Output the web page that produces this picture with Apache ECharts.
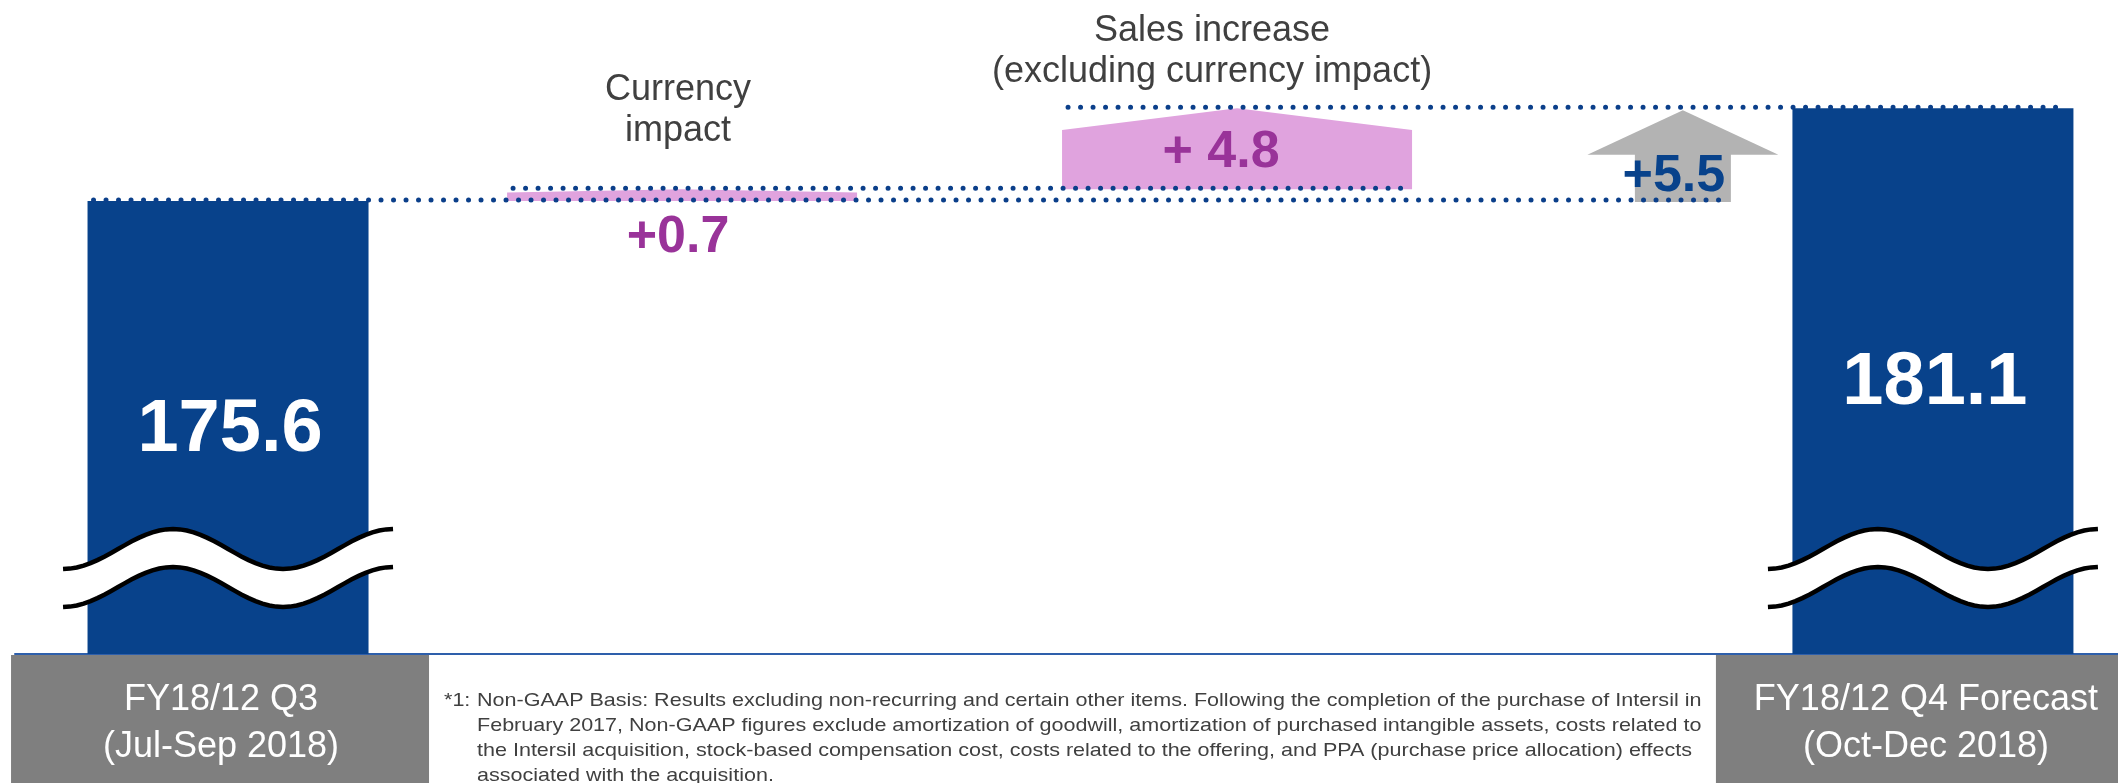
<!DOCTYPE html>
<html>
<head>
<meta charset="utf-8">
<title>Sales bridge FY18/12 Q3 to Q4 forecast</title>
<script src="https://cdn.jsdelivr.net/npm/echarts@6/dist/echarts.min.js"></script>
<style>
  html, body { margin: 0; padding: 0; background: #fff; }
  #chart { width: 2118px; height: 783px; }
</style>
</head>
<body>
<div id="chart"></div>
<script>
// ---- data ----
const categories = [
  "FY18/12 Q3\n(Jul-Sep 2018)",
  "Currency\nimpact",
  "Sales increase\n(excluding currency impact)",
  "",
  "FY18/12 Q4 Forecast\n(Oct-Dec 2018)"
];
const values = [175.6, 0.7, 4.8, 5.5, 181.1];
const valueLabels = ["175.6", "+0.7", "+ 4.8", "+5.5", "181.1"];
const kinds = ["total", "delta", "delta", "sum", "total"];
const footnote = [
  "Non-GAAP Basis: Results excluding non-recurring and certain other items. Following the completion of the purchase of Intersil in",
  "February 2017, Non-GAAP figures exclude amortization of goodwill, amortization of purchased intangible assets, costs related to",
  "the Intersil acquisition, stock-based compensation cost, costs related to the offering, and PPA (purchase price allocation) effects",
  "associated with the acquisition."
];

// ---- layout ----
const yMin = 148.8, yMax = 187.5;              // truncated value axis (break marks on the bars)
const slotX = [10.13, 31.72, 58.11, 79.31, 91.2]; // x centres, axis units 0-100
const titleGap = [0, 79, 57, 0, 0];             // title centre above shape top (px)
const titleDx = [0, -4, -25, 0, 0];

const NAVY = "#08428b";
const PINK = "#e0a3de";
const PURPLE = "#993399";
const GREY_TXT = "#404040";
const FONT = '"Liberation Sans", Arial, sans-serif';

// running levels for the bridge
const bases = [], tops = [];
let run = values[0];
values.forEach((v, i) => {
  if (kinds[i] === "total") { bases.push(yMin); tops.push(v); }
  else if (kinds[i] === "delta") { bases.push(run); run = +(run + v).toFixed(1); tops.push(run); }
  else { bases.push(values[0]); tops.push(+(values[0] + v).toFixed(1)); }
});
const stepData = values.map((v, i) => [slotX[i], bases[i], tops[i], i]);

// dotted connectors: [from step, to step, level]
const connectors = [
  [0, 3, values[0]],
  [1, 2, tops[1]],
  [2, 4, values[4]]
];
function halfWidth(i) {
  if (kinds[i] === "total") return 140.5;
  if (kinds[i] === "delta") return 175;
  return 48;
}

function breakMark(cx, yB) {
  const W = 330, A = 20, N = 48;
  const up = [], lo = [];
  for (let k = 0; k <= N; k++) {
    const t = k / N;
    const x = cx - W / 2 + t * W;
    const dy = A * Math.cos(3 * Math.PI * t);
    up.push([x, yB - 105 + dy]);
    lo.push([x, yB - 67 + dy]);
  }
  return [
    { type: "polygon", shape: { points: up.concat(lo.slice().reverse()) }, style: { fill: "#fff" } },
    { type: "polyline", shape: { points: up }, style: { stroke: "#000", lineWidth: 4.5, fill: null } },
    { type: "polyline", shape: { points: lo }, style: { stroke: "#000", lineWidth: 4.5, fill: null } }
  ];
}

function renderShape(params, api) {
  const i = api.value(3);
  const pT = api.coord([api.value(0), api.value(2)]);
  const pB = api.coord([api.value(0), api.value(1)]);
  const cx = pT[0], yT = pT[1], yB = pB[1];
  const children = [];
  if (kinds[i] === "total") {
    const w = 281;
    children.push({ type: "rect", shape: { x: cx - w / 2, y: yT, width: w, height: yB - yT }, style: { fill: NAVY } });
    children.push(...breakMark(cx, yB));
    // grey category box under the axis
    children.push({ type: "rect", shape: { x: cx - 217, y: yB + 1, width: 418, height: 140 }, style: { fill: "#7f7f7f" } });
    children.push({
      type: "text",
      style: {
        text: categories[i], x: cx - 7, y: yB + 70, fill: "#fff",
        fontSize: 36, fontFamily: FONT, lineHeight: 47, align: "center", verticalAlign: "middle"
      }
    });
  } else if (kinds[i] === "delta") {
    const l = cx - 175, r = cx + 175;
    const sh = yT + 0.27 * (yB - yT);
    children.push({
      type: "polygon",
      shape: { points: [[l, yB], [l, sh], [cx, yT], [r, sh], [r, yB]] },
      style: { fill: PINK }
    });
  } else {
    const headY = yT + 0.5 * (yB - yT);
    children.push({ type: "rect", shape: { x: cx - 48, y: headY - 1, width: 96, height: yB - headY + 2 }, style: { fill: "#b3b3b3" } });
    children.push({ type: "polygon", shape: { points: [[cx - 95.5, headY], [cx, yT + 2], [cx + 95.5, headY]] }, style: { fill: "#b3b3b3" } });
  }
  return { type: "group", children: children };
}

function renderConnector(params, api) {
  const a = api.value(0), b = api.value(1), lvl = api.value(2);
  const p1 = api.coord([slotX[a], lvl]);
  const p2 = api.coord([slotX[b], lvl]);
  const x1 = p1[0] - halfWidth(a) + 6;
  const x2 = p2[0] + halfWidth(b) - 6;
  return {
    type: "line",
    shape: { x1: x1, y1: p1[1] - 1, x2: x2, y2: p1[1] - 1 },
    style: { stroke: "#0b3f8a", lineWidth: 5, lineDash: [0, 12.5], lineCap: "round" }
  };
}

function renderLabel(params, api) {
  const i = api.value(3);
  const pT = api.coord([api.value(0), api.value(2)]);
  const pB = api.coord([api.value(0), api.value(1)]);
  const cx = pT[0], yT = pT[1], yB = pB[1];
  const children = [];
  const big = { fontWeight: "bold", fontFamily: FONT, align: "center", verticalAlign: "middle" };
  if (kinds[i] === "total") {
    children.push({ type: "text", style: Object.assign({ text: valueLabels[i], x: cx + 2, y: (yT + yB) / 2 + 3, fill: "#fff", fontSize: 74 }, big) });
  } else if (kinds[i] === "delta") {
    children.push({
      type: "text",
      style: { text: categories[i], x: cx + titleDx[i], y: yT - titleGap[i], fill: GREY_TXT, fontSize: 36, lineHeight: 41, fontFamily: FONT, align: "center", verticalAlign: "middle" }
    });
    // thin step: value below; tall step: value inside
    const inside = (yB - yT) > 40;
    children.push({
      type: "text",
      style: Object.assign({
        text: valueLabels[i], fill: PURPLE, fontSize: 52,
        x: inside ? cx - 16 : cx - 4,
        y: inside ? (yT + yB) / 2 + 4 : yB + 37
      }, big)
    });
  } else {
    children.push({ type: "text", style: Object.assign({ text: valueLabels[i], x: cx - 9, y: yB - 24, fill: NAVY, fontSize: 52 }, big) });
  }
  return { type: "group", children: children };
}

// footnote is set a little wider than the font's natural width, as on the slide
const noteStyle = { fill: GREY_TXT, fontSize: 18.5, lineHeight: 25, fontFamily: FONT, verticalAlign: "top" };

const chart = echarts.init(document.getElementById("chart"), null, { renderer: "canvas" });
chart.setOption({
  animation: false,
  backgroundColor: "#fff",
  grid: { left: 15, right: 0, top: 0, bottom: 129 },
  xAxis: {
    type: "value", min: 0, max: 100,
    axisLine: { show: true, onZero: false, lineStyle: { color: "#2e5fab", width: 2 } },
    axisTick: { show: false }, axisLabel: { show: false }, splitLine: { show: false }
  },
  yAxis: {
    type: "value", min: yMin, max: yMax,
    axisLine: { show: false }, axisTick: { show: false }, axisLabel: { show: false }, splitLine: { show: false }
  },
  graphic: [
    { type: "text", x: 444, y: 688, scaleX: 1.164, style: Object.assign({ text: "*1:", x: 0, y: 0 }, noteStyle) },
    { type: "text", x: 477, y: 688, scaleX: 1.164, style: Object.assign({ text: footnote.join("\n"), x: 0, y: 0 }, noteStyle) }
  ],
  series: [
    { type: "custom", name: "steps", z: 2, clip: false, renderItem: renderShape, encode: { x: 0, y: [1, 2] }, data: stepData },
    { type: "custom", name: "connectors", z: 3, clip: false, renderItem: renderConnector, data: connectors },
    { type: "custom", name: "labels", z: 4, clip: false, renderItem: renderLabel, encode: { x: 0, y: [1, 2] }, data: stepData }
  ]
});
</script>
</body>
</html>
